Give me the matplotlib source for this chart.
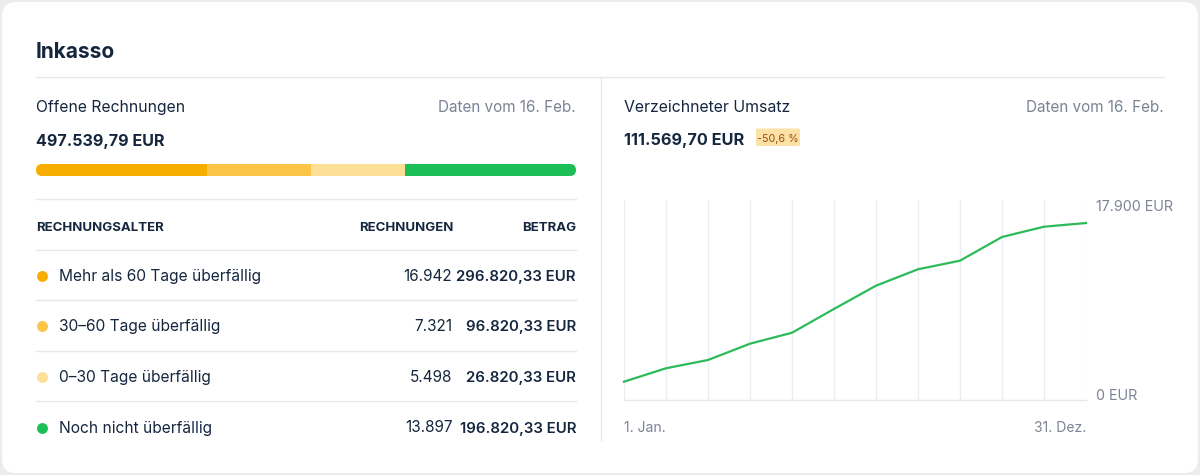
import matplotlib
matplotlib.use('Agg')
import matplotlib.pyplot as plt
from matplotlib.patches import FancyBboxPatch
import numpy as np

plt.rcParams['font.family'] = ['Inter', 'DejaVu Sans']

# ---------------- data ----------------
title = "Inkasso"
open_label = "Offene Rechnungen"
open_total = "497.539,79 EUR"
data_date = "Daten vom 16. Feb."
bar_shares = [31.7, 19.3, 17.4, 31.6]
seg_colors = ['#f7ae00', '#fcc548', '#fddf98', '#1cbf55']
col_headers = ["RECHNUNGSALTER", "RECHNUNGEN", "BETRAG"]
row_labels = ["Mehr als 60 Tage überfällig", "30–60 Tage überfällig",
              "0–30 Tage überfällig", "Noch nicht überfällig"]
row_counts = ["16.942", "7.321", "5.498", "13.897"]
row_amounts = ["296.820,33 EUR", "96.820,33 EUR", "26.820,33 EUR", "196.820,33 EUR"]

rev_label = "Verzeichneter Umsatz"
rev_total = "111.569,70 EUR"
rev_change = "-50,6 %"
months = list(range(12))
revenue = [1640, 2840, 3580, 5040, 6020, 8150, 10230, 11700, 12470, 14590, 15510, 15840]
y_max = 17900
y_tick_labels = ["0 EUR", "17.900 EUR"]
x_tick_labels = ["1. Jan.", "31. Dez."]

# ---------------- style ----------------
W, H = 1200, 475
DARK = '#15263f'
GRAY = '#7b8494'
LINE = '#e6e8ec'

fig = plt.figure(figsize=(W / 100, H / 100), dpi=100, facecolor='#ececec')
bg = fig.add_axes([0, 0, 1, 1])
bg.set_xlim(0, W)
bg.set_ylim(H, 0)
bg.axis('off')
bg.add_patch(FancyBboxPatch((2, 2), W - 4, H - 4,
                            boxstyle='round,pad=0,rounding_size=14',
                            fc='white', ec='none'))

# title + separators
bg.text(36, 57.5, title, fontsize=15, fontweight='bold', color=DARK, va='baseline')
bg.plot([36, 1164], [77, 77], color=LINE, lw=1)
bg.plot([600.5, 600.5], [77, 440], color=LINE, lw=1)

# left panel header
bg.text(36, 112, open_label, fontsize=11.3, color=DARK, va='baseline')
bg.text(576, 112, data_date, fontsize=11, color=GRAY, va='baseline', ha='right')
bg.text(36, 146, open_total, fontsize=11.6, fontweight='bold', color=DARK, va='baseline')

# stacked bar
bax = fig.add_axes([36 / W, (H - 176) / H, 540 / W, 12 / H])
bax.set_xlim(0, sum(bar_shares))
bax.set_ylim(-0.5, 0.5)
bax.axis('off')
clip = FancyBboxPatch((36, 164), 540, 12, boxstyle='round,pad=0,rounding_size=6',
                      fc='none', ec='none', transform=bg.transData)
lefts = np.concatenate([[0], np.cumsum(bar_shares)[:-1]])
bars = bax.barh([0], bar_shares, left=lefts, height=1.0, color=seg_colors, linewidth=0)
for b in bars:
    b.set_clip_path(clip)

# table
bg.plot([36, 576], [199, 199], color=LINE, lw=1)
bg.text(36, 231, col_headers[0], fontsize=9.5, fontweight='bold', color=DARK, va='baseline')
bg.text(453, 231, col_headers[1], fontsize=9.5, fontweight='bold', color=DARK, va='baseline', ha='right')
bg.text(576, 231, col_headers[2], fontsize=9.5, fontweight='bold', color=DARK, va='baseline', ha='right')

row_top = 249.5
row_h = 50.6
for i, (lab, cnt, amt) in enumerate(zip(row_labels, row_counts, row_amounts)):
    y0 = row_top + i * row_h
    bg.plot([36, 576], [y0, y0], color=LINE, lw=1)
    base = y0 + 31.2
    bg.scatter([41.5], [base - 5], s=62, color=seg_colors[i], linewidths=0, zorder=3)
    bg.text(59, base, lab, fontsize=11.2, color=DARK, va='baseline')
    bg.text(452.5, base, cnt, fontsize=11, color=DARK, va='baseline', ha='right')
    bg.text(576, base, amt, fontsize=10.8, fontweight='semibold', color=DARK,
            va='baseline', ha='right')

# right panel header
bg.text(624, 112, rev_label, fontsize=11.4, color=DARK, va='baseline')
bg.text(1164, 112, data_date, fontsize=11, color=GRAY, va='baseline', ha='right')
bg.text(624, 145, rev_total, fontsize=11.7, fontweight='bold', color=DARK, va='baseline')
bg.add_patch(FancyBboxPatch((756, 128.5), 44, 17.5, boxstyle='round,pad=0,rounding_size=2',
                            fc='#fde2a6', ec='none'))
bg.text(778, 141.5, rev_change, fontsize=7.8, color='#9c4a17', va='baseline', ha='center')

# line chart
ax = fig.add_axes([624 / W, (H - 400) / H, (1086 - 624) / W, 200 / H])
ax.set_xlim(months[0], months[-1])
ax.set_ylim(0, y_max)
ax.set_xticks(months, minor=True)
ax.set_xticks([months[0], months[-1]])
ax.set_xticklabels(x_tick_labels)
ax.grid(axis='x', which='both', color='#eceef1', lw=1)
ax.set_axisbelow(True)
for s in ['top', 'left', 'right']:
    ax.spines[s].set_visible(False)
ax.spines['bottom'].set_color(LINE)
ax.spines['bottom'].set_linewidth(1)
ax.plot(months, revenue, color='#2dba58', lw=1.6, clip_on=False, solid_joinstyle='round')
ax.tick_params(axis='both', which='both', length=0)
ax.tick_params(axis='x', pad=15, labelsize=10, labelcolor=GRAY)
xl = ax.get_xticklabels()
xl[0].set_ha('left')
xl[-1].set_ha('right')
ax.yaxis.tick_right()
ax.set_yticks([0, y_max])
ax.set_yticklabels(y_tick_labels)
ax.tick_params(axis='y', pad=7, labelsize=10.3, labelcolor=GRAY)
yl = ax.get_yticklabels()
yl[0].set_va('baseline')
yl[-1].set_va('top')
ax.set_facecolor('none')

fig.savefig('out.png', dpi=100, facecolor=fig.get_facecolor())
